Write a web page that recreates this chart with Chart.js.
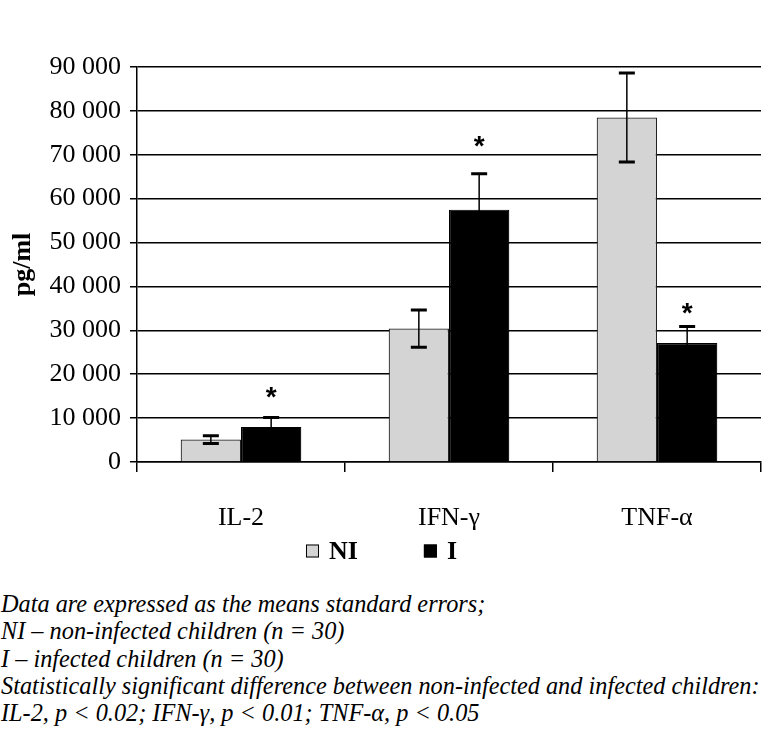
<!DOCTYPE html>
<html>
<head>
<meta charset="utf-8">
<script src="https://cdn.jsdelivr.net/npm/chart.js@4.4.1/dist/chart.umd.min.js"></script>
<style>
  html, body { margin: 0; padding: 0; background: #fff; }
  #wrap { position: relative; width: 763px; height: 731px; }
  #chart { position: absolute; left: 0; top: 0; }
  #notes {
    position: absolute; left: 1px; top: 590px;
    font-family: "Liberation Serif", "DejaVu Serif", serif;
    font-style: italic; font-size: 24.3px; line-height: 27.3px;
    color: #000; white-space: nowrap;
  }
</style>
</head>
<body>
<div id="wrap">
  <canvas id="chart" width="763" height="585"></canvas>
  <div id="notes">
    Data are expressed as the means standard errors;<br>
    NI – non-infected children (n = 30)<br>
    I – infected children (n = 30)<br>
    Statistically significant difference between non-infected and infected children:<br>
    IL-2, p &lt; 0.02; IFN-γ, p &lt; 0.01; TNF-α, p &lt; 0.05
  </div>
</div>
<script>
// Chart data
const categories = ['IL-2', 'IFN-γ', 'TNF-α'];
const seriesNames = ['NI', 'I'];
const niValues = [5100, 30400, 78500];
const niErrors = [870, 4250, 10150];
const iValues = [8000, 57500, 27100];
const iErrors = [2150, 8200, 3800];
// asterisk level (pg/ml) above the infected bars
const sigLevels = [16550, 73900, 35700];
const yTicks = [0, 10000, 20000, 30000, 40000, 50000, 60000, 70000, 80000, 90000];

const serif = '"Liberation Serif", "Times New Roman", serif';

function fmt(v) {
  return String(v).replace(/\B(?=(\d{3})+(?!\d))/g, ' ');
}

// Error bars + significance marks
const errorBarPlugin = {
  id: 'errorBars',
  afterDatasetsDraw(chart) {
    const ctx = chart.ctx;
    const y = chart.scales.y;
    const errs = [niErrors, iErrors];
    ctx.save();
    ctx.strokeStyle = '#000';
    chart.data.datasets.forEach((ds, di) => {
      const meta = chart.getDatasetMeta(di);
      meta.data.forEach((bar, j) => {
        const v = ds.data[j];
        const top = y.getPixelForValue(v + errs[di][j]);
        const bot = y.getPixelForValue(v - errs[di][j]);
        ctx.lineWidth = 1.5;
        ctx.beginPath();
        ctx.moveTo(bar.x, top);
        ctx.lineTo(bar.x, bot);
        ctx.stroke();
        ctx.lineWidth = 3;
        ctx.beginPath();
        ctx.moveTo(bar.x - 8, top);
        ctx.lineTo(bar.x + 8, top);
        ctx.moveTo(bar.x - 8, bot);
        ctx.lineTo(bar.x + 8, bot);
        ctx.stroke();
      });
    });
    // asterisks over infected group
    const metaI = chart.getDatasetMeta(1);
    ctx.fillStyle = '#000';
    ctx.font = 'bold 28px "Liberation Sans", Arial, sans-serif';
    ctx.textAlign = 'center';
    ctx.textBaseline = 'alphabetic';
    metaI.data.forEach((bar, j) => {
      ctx.fillText('*', bar.x, y.getPixelForValue(sigLevels[j]) + 17);
    });
    ctx.restore();
  }
};

// Legend under the category labels
const bottomLegend = {
  id: 'bottomLegend',
  afterDraw(chart) {
    const ctx = chart.ctx;
    const box = 13, gap = 10, itemGap = 66, cy = 551;
    ctx.save();
    ctx.font = 'bold 26px ' + serif;
    const widths = chart.data.datasets.map(ds => box + gap + ctx.measureText(ds.label).width);
    const total = widths.reduce((a, b) => a + b, 0) + itemGap * (widths.length - 1);
    let x = (chart.width - total) / 2;
    chart.data.datasets.forEach((ds, i) => {
      ctx.fillStyle = ds.backgroundColor;
      ctx.fillRect(x, cy - box / 2, box, box);
      ctx.strokeStyle = '#000';
      ctx.lineWidth = 1;
      ctx.strokeRect(x + 0.5, cy - box / 2 + 0.5, box - 1, box - 1);
      ctx.fillStyle = '#000';
      ctx.textAlign = 'left';
      ctx.textBaseline = 'middle';
      ctx.fillText(ds.label, x + box + gap, cy + 1);
      x += widths[i] + itemGap;
    });
    ctx.restore();
  }
};

const ctx = document.getElementById('chart').getContext('2d');
new Chart(ctx, {
  type: 'bar',
  data: {
    labels: categories,
    datasets: [
      {
        label: seriesNames[0],
        data: niValues,
        backgroundColor: '#d4d4d4',
        borderColor: '#222',
        borderWidth: 1.2,
        barPercentage: 1,
        categoryPercentage: 0.58
      },
      {
        label: seriesNames[1],
        data: iValues,
        backgroundColor: '#000',
        borderColor: '#000',
        borderWidth: 1.2,
        barPercentage: 1,
        categoryPercentage: 0.58
      }
    ]
  },
  options: {
    responsive: false,
    animation: false,
    layout: { padding: { top: 67, right: 2, left: 0, bottom: 0 } },
    plugins: {
      legend: { display: false },
      tooltip: { enabled: false }
    },
    scales: {
      x: {
        grid: {
          offset: true,
          drawOnChartArea: false,
          drawTicks: true,
          tickLength: 10,
          color: '#000',
          lineWidth: 1.5
        },
        border: { color: '#000', width: 1.5 },
        ticks: {
          color: '#000',
          padding: 31,
          font: { family: serif, size: 26 }
        },
        afterFit(s) {
          s.height = s.chart.height - 462;
        }
      },
      y: {
        min: 0,
        max: 90000,
        afterBuildTicks(s) {
          s.ticks = yTicks.map(v => ({ value: v }));
        },
        grid: {
          color: '#000',
          lineWidth: 1.5,
          tickLength: 7
        },
        border: { color: '#000', width: 1.5 },
        ticks: {
          color: '#000',
          padding: 9,
          font: { family: serif, size: 26 },
          callback: v => fmt(v)
        },
        title: {
          display: true,
          text: 'pg/ml',
          color: '#000',
          font: { family: serif, size: 26, weight: 'bold' },
          padding: { top: 8, bottom: 0 }
        },
        afterFit(s) {
          s.width = 137;
        }
      }
    }
  },
  plugins: [errorBarPlugin, bottomLegend]
});
</script>
</body>
</html>
